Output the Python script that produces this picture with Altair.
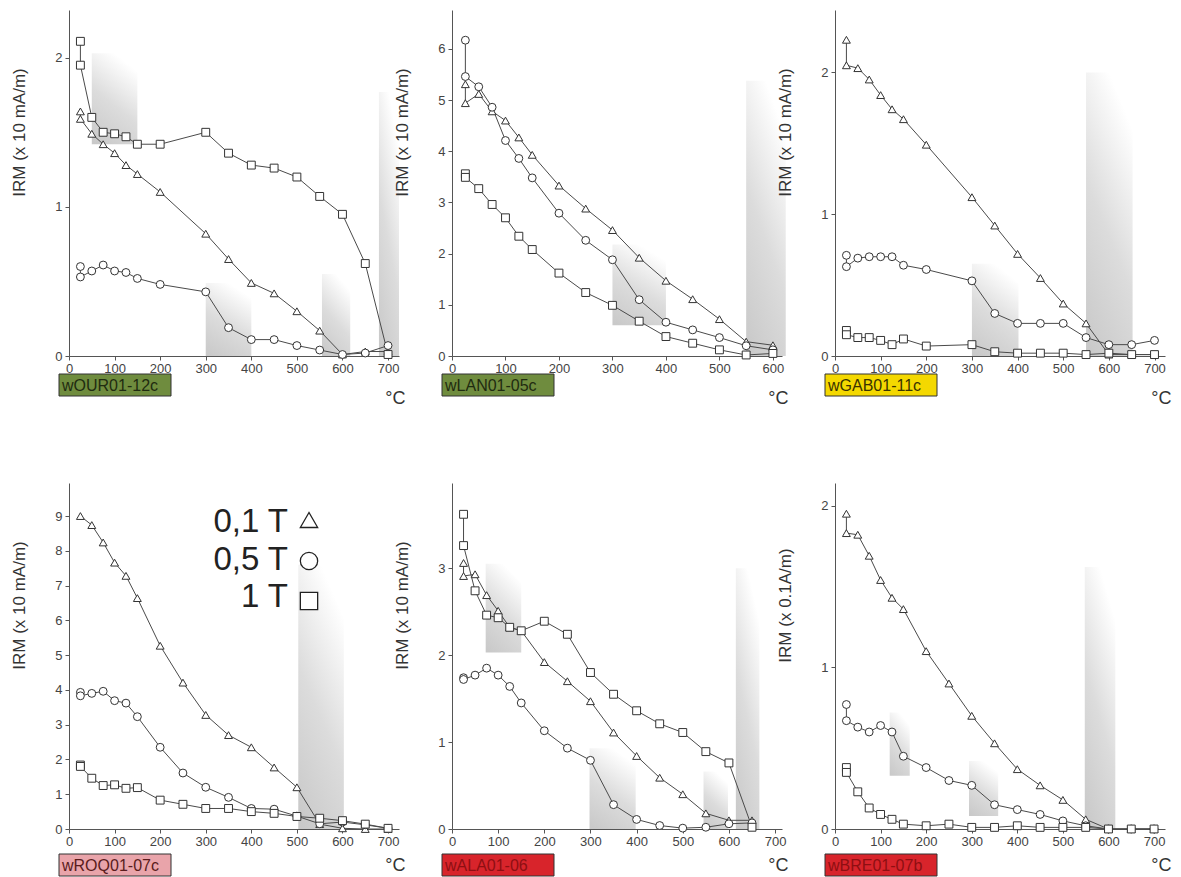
import altair as alt
import pandas as pd

# ---------------- data ----------------
sample_names = ["wOUR01-12c", "wLAN01-05c", "wGAB01-11c", "wROQ01-07c", "wALA01-06", "wBRE01-07b"]
label_fills = ["#6f8c3e", "#6f8c3e", "#f4d800", "#e9a4aa", "#d8242b", "#d8242b"]
label_inks = ["#1f2b10", "#1f2b10", "#3a3300", "#5a1c1c", "#8e0f12", "#8e0f12"]
y_titles = ["IRM (x 10 mA/m)"] * 5 + ["IRM (x 0.1A/m)"]
x_max = [724, 617, 723, 724, 715, 724]
y_max = [2.32, 6.76, 2.44, 9.95, 3.98, 2.14]
x_ticks = [list(range(0, 701, 100)), list(range(0, 601, 100)), list(range(0, 701, 100)),
           list(range(0, 701, 100)), list(range(0, 701, 100)), list(range(0, 701, 100))]
y_ticks = [[0, 1, 2], [0, 1, 2, 3, 4, 5, 6], [0, 1, 2], list(range(0, 10)), [0, 1, 2, 3], [0, 1, 2]]

legend_labels = ["0,1 T", "0,5 T", "1 T"]
legend_shapes = ["triangle-up", "circle", "square"]

# panel 1 : wOUR01-12c
t1 = [25, 25, 50, 75, 100, 125, 150, 200, 300, 350, 400, 450, 500, 550, 600, 650, 700]
tri1 = [1.64, 1.59, 1.49, 1.42, 1.36, 1.28, 1.22, 1.10, 0.82, 0.65, 0.49, 0.42, 0.30, 0.17, 0.01, 0.03, 0.03]
cir1 = [0.60, 0.53, 0.57, 0.61, 0.57, 0.56, 0.52, 0.48, 0.43, 0.19, 0.11, 0.11, 0.07, 0.04, 0.01, 0.02, 0.07]
sq1 = [2.11, 1.95, 1.60, 1.50, 1.49, 1.47, 1.42, 1.42, 1.50, 1.36, 1.28, 1.26, 1.20, 1.07, 0.95, 0.62, 0.01]
shade1 = {"x1": [50, 300, 555, 680], "x2": [150, 400, 617, 724], "y1": [1.42, 0, 0, 0], "y2": [2.03, 0.49, 0.55, 1.77]}

# panel 2 : wLAN01-05c
t2 = [25, 25, 50, 75, 100, 125, 150, 200, 250, 300, 350, 400, 450, 500, 550, 600]
tri2 = [5.31, 4.94, 5.12, 4.78, 4.60, 4.27, 3.93, 3.33, 2.88, 2.46, 1.92, 1.47, 1.11, 0.72, 0.28, 0.21]
cir2 = [6.17, 5.46, 5.26, 4.86, 4.21, 3.86, 3.48, 2.79, 2.26, 1.88, 1.10, 0.66, 0.51, 0.36, 0.20, 0.12]
sq2 = [3.56, 3.49, 3.27, 2.96, 2.70, 2.34, 2.08, 1.62, 1.24, 0.99, 0.68, 0.38, 0.25, 0.12, 0.02, 0.05]
shade2 = {"x1": [300, 550], "x2": [400, 624], "y1": [0.60, 0], "y2": [2.18, 5.38]}

# panel 3 : wGAB01-11c
t3 = [25, 25, 50, 75, 100, 125, 150, 200, 300, 350, 400, 450, 500, 550, 600, 650, 700]
tri3 = [2.23, 2.05, 2.03, 1.95, 1.84, 1.74, 1.67, 1.49, 1.12, 0.92, 0.72, 0.55, 0.37, 0.23, 0.01, 0.01, 0.01]
cir3 = [0.71, 0.63, 0.69, 0.70, 0.70, 0.70, 0.64, 0.61, 0.53, 0.30, 0.23, 0.23, 0.23, 0.13, 0.08, 0.08, 0.11]
sq3 = [0.18, 0.15, 0.13, 0.13, 0.11, 0.08, 0.12, 0.07, 0.08, 0.03, 0.02, 0.02, 0.02, 0.01, 0.02, 0.01, 0.01]
shade3 = {"x1": [300, 550], "x2": [402, 652], "y1": [0, 0], "y2": [0.65, 2.0]}

# panel 4 : wROQ01-07c
t4 = [25, 25, 50, 75, 100, 125, 150, 200, 250, 300, 350, 400, 450, 500, 550, 600, 650, 700]
tri4 = [None, 9.00, 8.74, 8.24, 7.66, 7.28, 6.64, 5.27, 4.21, 3.28, 2.70, 2.35, 1.77, 1.20, 0.14, 0.02, 0.0, 0.0]
cir4 = [3.93, 3.83, 3.90, 3.96, 3.69, 3.62, 3.23, 2.35, 1.61, 1.20, 0.91, 0.59, 0.57, 0.37, 0.15, 0.20, 0.12, 0.02]
sq4 = [1.84, 1.80, 1.46, 1.25, 1.27, 1.17, 1.19, 0.83, 0.71, 0.59, 0.59, 0.50, 0.45, 0.36, 0.31, 0.24, 0.14, 0.02]
shade4 = {"x1": [503], "x2": [603], "y1": [0], "y2": [7.6]}

# panel 5 : wALA01-06
t5 = [25, 25, 50, 75, 100, 125, 150, 200, 250, 300, 350, 400, 450, 500, 550, 600, 650]
tri5 = [3.06, 2.91, 2.93, 2.69, 2.51, 2.32, 2.28, 1.92, 1.70, 1.47, 1.11, 0.84, 0.59, 0.40, 0.18, 0.10, 0.10]
cir5 = [1.74, 1.72, 1.77, 1.85, 1.77, 1.64, 1.45, 1.13, 0.93, 0.79, 0.28, 0.11, 0.04, 0.01, 0.02, 0.06, 0.07]
sq5 = [3.62, 3.26, 2.74, 2.46, 2.43, 2.32, 2.28, 2.39, 2.24, 1.80, 1.55, 1.36, 1.21, 1.11, 0.89, 0.76, 0.02]
shade5 = {"x1": [73, 298, 545, 615], "x2": [150, 398, 598, 666], "y1": [2.03, 0, 0, 0], "y2": [3.05, 0.93, 0.66, 3.0]}

# panel 6 : wBRE01-07b
t6 = [25, 25, 50, 75, 100, 125, 150, 200, 250, 300, 350, 400, 450, 500, 550, 600, 650, 700]
tri6 = [1.95, 1.83, 1.82, 1.69, 1.54, 1.43, 1.36, 1.10, 0.90, 0.70, 0.53, 0.37, 0.27, 0.18, 0.06, 0.0, 0.0, 0.0]
cir6 = [0.77, 0.67, 0.63, 0.60, 0.64, 0.60, 0.45, 0.38, 0.30, 0.27, 0.15, 0.12, 0.09, 0.05, 0.02, 0.0, 0.0, 0.0]
sq6 = [0.38, 0.35, 0.23, 0.13, 0.09, 0.06, 0.03, 0.02, 0.03, 0.01, 0.01, 0.02, 0.01, 0.01, 0.01, 0.0, 0.0, 0.0]
shade6 = {"x1": [120, 294, 548], "x2": [164, 358, 615], "y1": [0.33, 0.08, 0], "y2": [0.72, 0.42, 1.62]}

temps = [t1, t2, t3, t4, t5, t6]
series = [
    {"tri": tri1, "cir": cir1, "sq": sq1},
    {"tri": tri2, "cir": cir2, "sq": sq2},
    {"tri": tri3, "cir": cir3, "sq": sq3},
    {"tri": tri4, "cir": cir4, "sq": sq4},
    {"tri": tri5, "cir": cir5, "sq": sq5},
    {"tri": tri6, "cir": cir6, "sq": sq6},
]
shades = [shade1, shade2, shade3, shade4, shade5, shade6]

# ---------------- chart ----------------
W, H = 330, 346
LABEL_OFF = [18, 25]
DEG_Y = [47, 41]
INK = "#333333"

gradient = alt.LinearGradient(
    gradient="linear", x1=0.1, y1=1, x2=0.5, y2=0,
    stops=[alt.GradientStop(color="#c9c9c9", offset=0),
           alt.GradientStop(color="#dcdcdc", offset=0.5),
           alt.GradientStop(color="#ffffff", offset=1)])

shape_scale = alt.Scale(domain=["tri", "cir", "sq"], range=["triangle-up", "circle", "square"])


def make_panel(i):
    row = i // 3
    xs = alt.Scale(domain=[0, x_max[i]], nice=False, zero=False)
    ys = alt.Scale(domain=[0, y_max[i]], nice=False, zero=False)
    xaxis = alt.Axis(values=x_ticks[i], title="°C", titleX=W + 6, titleY=DEG_Y[row],
                     titleAlign="right", titleBaseline="alphabetic", titleFontSize=18,
                     titleFontWeight="normal", titleColor=INK, labelFontSize=13,
                     labelColor="#444", tickSize=4, domainColor="#555", tickColor="#555",
                     grid=False, labelFlush=False, labelPadding=2)
    yaxis = alt.Axis(values=y_ticks[i], title=y_titles[i], titleX=-50, titleY=122,
                     titleAlign="center", titleBaseline="middle", titleFontSize=17,
                     titleFontWeight="normal", titleColor=INK, labelFontSize=13,
                     labelColor="#444", tickSize=4, domainColor="#555", tickColor="#555",
                     grid=False, labelPadding=3)

    rows = []
    for key in ["tri", "cir", "sq"]:
        for j, (t, v) in enumerate(zip(temps[i], series[i][key])):
            if v is None:
                continue
            rows.append({"series": key, "idx": j, "t": t, "v": v})
    df = pd.DataFrame(rows)

    X = alt.X("t:Q", scale=xs, axis=xaxis)
    Y = alt.Y("v:Q", scale=ys, axis=yaxis)

    shade = alt.Chart(pd.DataFrame(shades[i])).mark_rect(color=gradient, strokeWidth=0).encode(
        x=alt.X("x1:Q", scale=xs, axis=xaxis), x2="x2:Q",
        y=alt.Y("y1:Q", scale=ys, axis=yaxis), y2="y2:Q")
    lines = alt.Chart(df).mark_line(color="#4a4a4a", strokeWidth=1).encode(
        x=X, y=Y, detail="series:N", order="idx:Q")
    pts = alt.Chart(df).mark_point(filled=True, fill="white", stroke=INK, strokeWidth=1,
                                   size=62, opacity=1).encode(
        x=X, y=Y, shape=alt.Shape("series:N", scale=shape_scale, legend=None))

    lab = pd.DataFrame({"name": [sample_names[i]]})
    off = LABEL_OFF[row]
    box = alt.Chart(lab).mark_rect(fill=label_fills[i], stroke=INK, strokeWidth=1).encode(
        x=alt.value(-10), x2=alt.value(102), y=alt.value(H + off), y2=alt.value(H + off + 22))
    txt = alt.Chart(lab).mark_text(align="left", baseline="middle", fontSize=16,
                                   color=label_inks[i]).encode(
        x=alt.value(-7), y=alt.value(H + off + 12), text="name:N")

    layers = [shade, lines, pts, box, txt]

    if i == 3:
        text_y = [49, 87, 124]
        sym_y = [37, 78, 118]
        for lbl, shp, ty, sy in zip(legend_labels, legend_shapes, text_y, sym_y):
            ld = pd.DataFrame({"label": [lbl]})
            layers.append(alt.Chart(ld).mark_text(align="right", baseline="alphabetic",
                                                  fontSize=33, color="#222").encode(
                x=alt.value(219), y=alt.value(ty), text="label:N"))
            layers.append(alt.Chart(ld).mark_point(shape=shp, filled=True, fill="white",
                                                   stroke="#222", strokeWidth=1.3,
                                                   size=300, opacity=1).encode(
                x=alt.value(240), y=alt.value(sy)))

    return alt.layer(*layers).properties(width=W, height=H)


panels = [make_panel(i) for i in range(6)]

chart = alt.concat(*panels, columns=3, spacing={"row": 127, "column": 53},
                   bounds="flush").properties(
    padding={"left": 2, "top": 2, "right": 2, "bottom": 2}
).configure(font="Liberation Sans").configure_view(stroke=None)

chart.save("out.html", embed_options={"renderer": "svg", "actions": False})
